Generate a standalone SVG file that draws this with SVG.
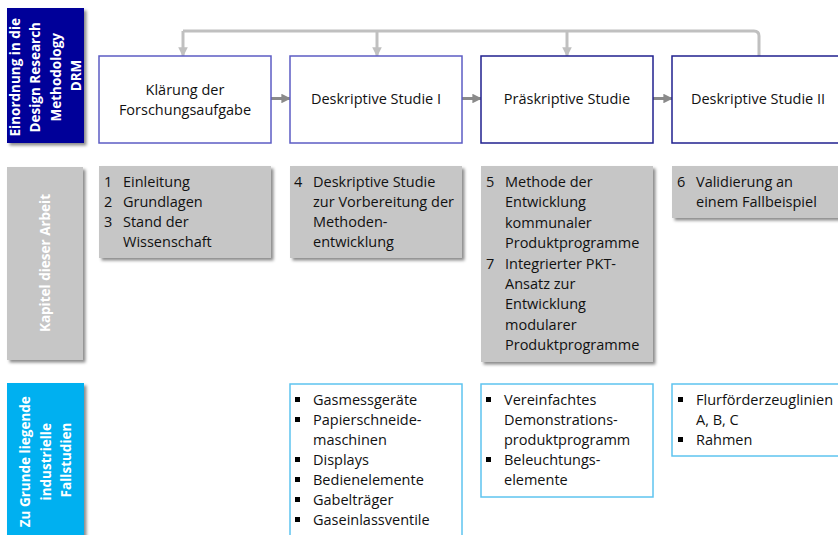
<svg xmlns="http://www.w3.org/2000/svg" width="838" height="535" viewBox="0 0 838 535">
  <defs>
    <filter id="shadow" x="-10%" y="-10%" width="130%" height="130%">
      <feDropShadow dx="2.5" dy="2.5" stdDeviation="1.5" flood-color="#000" flood-opacity="0.45"/>
    </filter>
    <marker id="arrDark" viewBox="0 0 10 10" refX="9" refY="5" markerWidth="3.2" markerHeight="3.2" orient="auto" markerUnits="strokeWidth">
      <path d="M0,0 L10,5 L0,10 z" fill="#8a8a8a"/>
    </marker>
    <marker id="arrLight" viewBox="0 0 10 10" refX="9" refY="5" markerWidth="3.2" markerHeight="3.2" orient="auto" markerUnits="strokeWidth">
      <path d="M0,0 L10,5 L0,10 z" fill="#c0c0c0"/>
    </marker>
  </defs>
  <style>
    text { font-family: "Open Sans", "Liberation Sans", sans-serif; font-size: 14.5px; fill: #111; }
    .side { font-weight: bold; fill: #fff; text-anchor: middle; font-size: 13.5px; }
    .mid { text-anchor: middle; }
    .stage { fill: #fff; stroke-width: 1.5; }
    .chap { fill: #c6c6c6; filter: url(#shadow); }
    .case { fill: #fff; stroke: #5ec4ef; stroke-width: 1.5; }
    .flow { stroke: #8a8a8a; stroke-width: 3; fill: none; marker-end: url(#arrDark); }
    .back { stroke: #c0c0c0; stroke-width: 3; fill: none; }
    .backArr { stroke: #c0c0c0; stroke-width: 3; fill: none; marker-end: url(#arrLight); }
  </style>

  <rect width="838" height="535" fill="#fff"/>

  <!-- row headers -->
  <g id="head-drm">
    <rect x="7" y="8" width="77" height="135" fill="#000099" filter="url(#shadow)"/>
    <text class="side" transform="translate(45.5,75.5) rotate(-90)">
      <tspan x="0" y="-26">Einordnung in die</tspan>
      <tspan x="0" y="-5.5">Design Research</tspan>
      <tspan x="0" y="15">Methodology</tspan>
      <tspan x="0" y="35.5">DRM</tspan>
    </text>
  </g>
  <g id="head-kapitel">
    <rect x="7" y="167" width="76" height="193" fill="#c6c6c6" filter="url(#shadow)"/>
    <text class="side" transform="translate(45,263) rotate(-90)" y="5">Kapitel dieser Arbeit</text>
  </g>
  <g id="head-fallstudien">
    <rect x="7" y="383" width="77" height="160" fill="#00b0f0" filter="url(#shadow)"/>
    <text class="side" transform="translate(45.5,460) rotate(-90)">
      <tspan x="0" y="-15.5">Zu Grunde liegende</tspan>
      <tspan x="0" y="5">industrielle</tspan>
      <tspan x="0" y="25.5">Fallstudien</tspan>
    </text>
  </g>

  <!-- connectors -->
  <g id="connectors">
    <path class="back" d="M183,31 H754 Q759,31 759,36 V56"/>
    <path class="backArr" d="M183,31 V56"/>
    <path class="backArr" d="M377,31 V56"/>
    <path class="backArr" d="M567,31 V56"/>
    <path class="flow" d="M271,98.5 H290"/>
    <path class="flow" d="M462,98.5 H481"/>
    <path class="flow" d="M653,98.5 H672"/>
  </g>

  <!-- DRM stages -->
  <g id="stage-klaerung">
    <rect class="stage" x="99" y="56" width="172" height="87" stroke="#5c5cc4"/>
    <text class="mid" x="185" y="95">Klärung der</text>
    <text class="mid" x="185" y="115">Forschungsaufgabe</text>
  </g>
  <g id="stage-ds1">
    <rect class="stage" x="290" y="56" width="172" height="87" stroke="#5c5cc4"/>
    <text class="mid" x="376" y="104">Deskriptive Studie I</text>
  </g>
  <g id="stage-ps">
    <rect class="stage" x="481" y="56" width="172" height="87" stroke="#20208f"/>
    <text class="mid" x="567" y="104">Präskriptive Studie</text>
  </g>
  <g id="stage-ds2">
    <rect class="stage" x="672" y="56" width="172" height="87" stroke="#20208f"/>
    <text class="mid" x="758" y="104">Deskriptive Studie II</text>
  </g>

  <!-- chapters -->
  <g id="chap-1-3">
    <rect class="chap" x="99" y="166" width="172" height="92"/>
    <text x="104" y="187">1</text><text x="123" y="187">Einleitung</text>
    <text x="104" y="207">2</text><text x="123" y="207">Grundlagen</text>
    <text x="104" y="227">3</text><text x="123" y="227">Stand der</text>
    <text x="123" y="247">Wissenschaft</text>
  </g>
  <g id="chap-4">
    <rect class="chap" x="290" y="166" width="172" height="92"/>
    <text x="294" y="187">4</text><text x="313" y="187">Deskriptive Studie</text>
    <text x="313" y="207">zur Vorbereitung der</text>
    <text x="313" y="227">Methoden-</text>
    <text x="313" y="247">entwicklung</text>
  </g>
  <g id="chap-5-7">
    <rect class="chap" x="481" y="166" width="172" height="196"/>
    <text x="486" y="187">5</text><text x="505" y="187">Methode der</text>
    <text x="505" y="207.4">Entwicklung</text>
    <text x="505" y="227.8">kommunaler</text>
    <text x="505" y="248.2">Produktprogramme</text>
    <text x="486" y="268.6">7</text><text x="505" y="268.6">Integrierter PKT-</text>
    <text x="505" y="289">Ansatz zur</text>
    <text x="505" y="309.4">Entwicklung</text>
    <text x="505" y="329.8">modularer</text>
    <text x="505" y="350.2">Produktprogramme</text>
  </g>
  <g id="chap-6">
    <rect class="chap" x="672" y="166" width="172" height="52"/>
    <text x="677" y="187">6</text><text x="696" y="187">Validierung an</text>
    <text x="696" y="207">einem Fallbeispiel</text>
  </g>

  <!-- case studies -->
  <g id="case-ds1">
    <rect class="case" x="290" y="384" width="172" height="160"/>
    <g fill="#000">
      <rect x="295" y="397" width="5" height="5"/>
      <rect x="295" y="417" width="5" height="5"/>
      <rect x="295" y="457" width="5" height="5"/>
      <rect x="295" y="477" width="5" height="5"/>
      <rect x="295" y="497" width="5" height="5"/>
      <rect x="295" y="517" width="5" height="5"/>
    </g>
    <text x="313" y="405">Gasmessgeräte</text>
    <text x="313" y="425">Papierschneide-</text>
    <text x="313" y="445">maschinen</text>
    <text x="313" y="465">Displays</text>
    <text x="313" y="485">Bedienelemente</text>
    <text x="313" y="505">Gabelträger</text>
    <text x="313" y="525">Gaseinlassventile</text>
  </g>
  <g id="case-ps">
    <rect class="case" x="481" y="384" width="172" height="113"/>
    <g fill="#000">
      <rect x="486" y="397" width="5" height="5"/>
      <rect x="486" y="457" width="5" height="5"/>
    </g>
    <text x="504" y="405">Vereinfachtes</text>
    <text x="504" y="425">Demonstrations-</text>
    <text x="504" y="445">produktprogramm</text>
    <text x="504" y="465">Beleuchtungs-</text>
    <text x="504" y="485">elemente</text>
  </g>
  <g id="case-ds2">
    <rect class="case" x="672" y="384" width="172" height="72"/>
    <g fill="#000">
      <rect x="678" y="397" width="5" height="5"/>
      <rect x="678" y="437" width="5" height="5"/>
    </g>
    <text x="696" y="405">Flurförderzeuglinien</text>
    <text x="696" y="425">A, B, C</text>
    <text x="696" y="445">Rahmen</text>
  </g>
</svg>
